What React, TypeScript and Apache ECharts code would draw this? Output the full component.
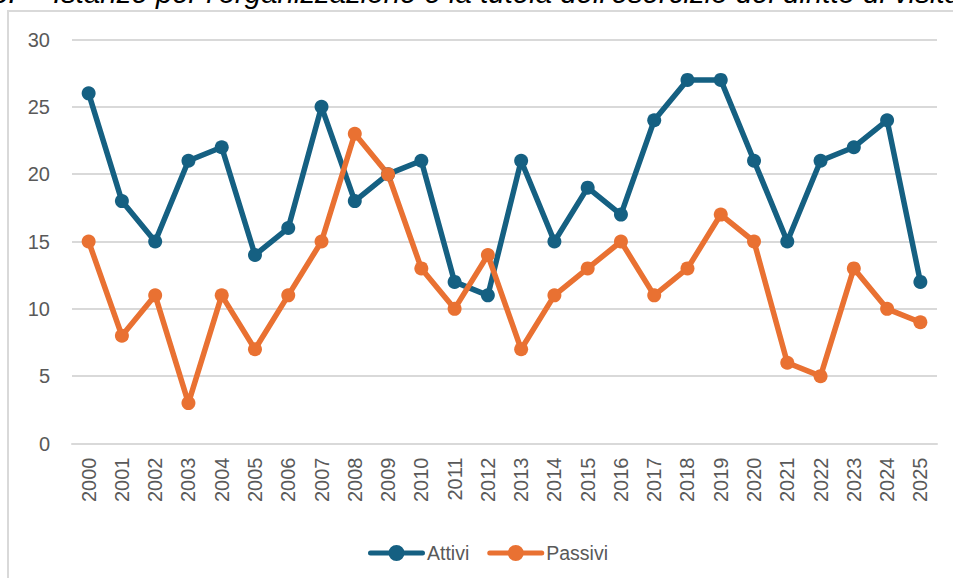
import React, { useEffect, useRef } from "react";
import * as echarts from "echarts";

const years = ["2000","2001","2002","2003","2004","2005","2006","2007","2008","2009","2010","2011","2012","2013","2014","2015","2016","2017","2018","2019","2020","2021","2022","2023","2024","2025"];
const attivi = [26,18,15,21,22,14,16,25,18,20,21,12,11,21,15,19,17,24,27,27,21,15,21,22,24,12];
const passivi = [15,8,11,3,11,7,11,15,23,20,13,10,14,7,11,13,15,11,13,17,15,6,5,13,10,9];
const seriesNames = ["Attivi", "Passivi"];
const titleNumber = "6.";
const titleText = "Istanze per l'organizzazione e la tutela dell'esercizio del diritto di visita";

const legendIcon =
  "path://M2.5,5.5 L54.5,5.5 A2.5,2.5 0 0,1 54.5,10.5 L2.5,10.5 A2.5,2.5 0 0,1 2.5,5.5 Z M20.5,8 A8,8 0 1,1 36.5,8 A8,8 0 1,1 20.5,8 Z";

export default function App() {
  const ref = useRef<HTMLDivElement>(null);
  useEffect(() => {
    if (!ref.current) return;
    const chart = echarts.init(ref.current, null, { renderer: "svg" });
    const font = "'Liberation Sans', Arial, sans-serif";
    chart.setOption({
      animation: false,
      backgroundColor: "#ffffff",
      textStyle: { fontFamily: font },
      grid: { left: 72, right: 16, top: 39.5, bottom: 134.5, containLabel: false },
      legend: {
        left: 363,
        top: 538,
        itemWidth: 57,
        itemHeight: 16,
        itemGap: 18,
        textStyle: { color: "#595959", fontSize: 19.5, fontFamily: font, padding: [0, 0, 0, -3] },
        data: seriesNames.map((n) => ({ name: n, icon: legendIcon })),
      },
      xAxis: {
        type: "category",
        data: years,
        boundaryGap: true,
        axisLine: { show: true, lineStyle: { color: "#d9d9d9", width: 2 } },
        axisTick: { show: false },
        axisLabel: { rotate: 90, color: "#595959", fontSize: 20, margin: 14, fontFamily: font },
      },
      yAxis: {
        type: "value",
        min: 0,
        max: 30,
        interval: 5,
        axisLine: { show: false },
        axisTick: { show: false },
        splitLine: { lineStyle: { color: "#d9d9d9", width: 2 } },
        axisLabel: { color: "#595959", fontSize: 20, margin: 22, fontFamily: font },
      },
      series: [
        {
          name: seriesNames[0],
          type: "line",
          data: attivi,
          symbol: "circle",
          symbolSize: 14,
          lineStyle: { color: "#156082", width: 5.5 },
          itemStyle: { color: "#156082" },
        },
        {
          name: seriesNames[1],
          type: "line",
          data: passivi,
          symbol: "circle",
          symbolSize: 14,
          lineStyle: { color: "#E97132", width: 5.5 },
          itemStyle: { color: "#E97132" },
        },
      ],
      graphic: [
        {
          type: "rect",
          silent: true,
          shape: { x: 8, y: 11, width: 1000, height: 600 },
          style: { fill: "none", stroke: "#d9d9d9", lineWidth: 2 },
        },
        {
          type: "text",
          x: -8,
          y: 7,
          style: { text: titleNumber, fill: "#000", font: `italic 29.4px ${font}`, verticalAlign: "bottom" },
        },
        {
          type: "text",
          x: 53,
          y: 7,
          style: { text: titleText, fill: "#000", font: `italic 29.4px ${font}`, verticalAlign: "bottom" },
        },
      ],
    });
    return () => chart.dispose();
  }, []);
  return <div ref={ref} style={{ position: "fixed", left: 0, top: 0, width: 953, height: 578 }} />;
}
